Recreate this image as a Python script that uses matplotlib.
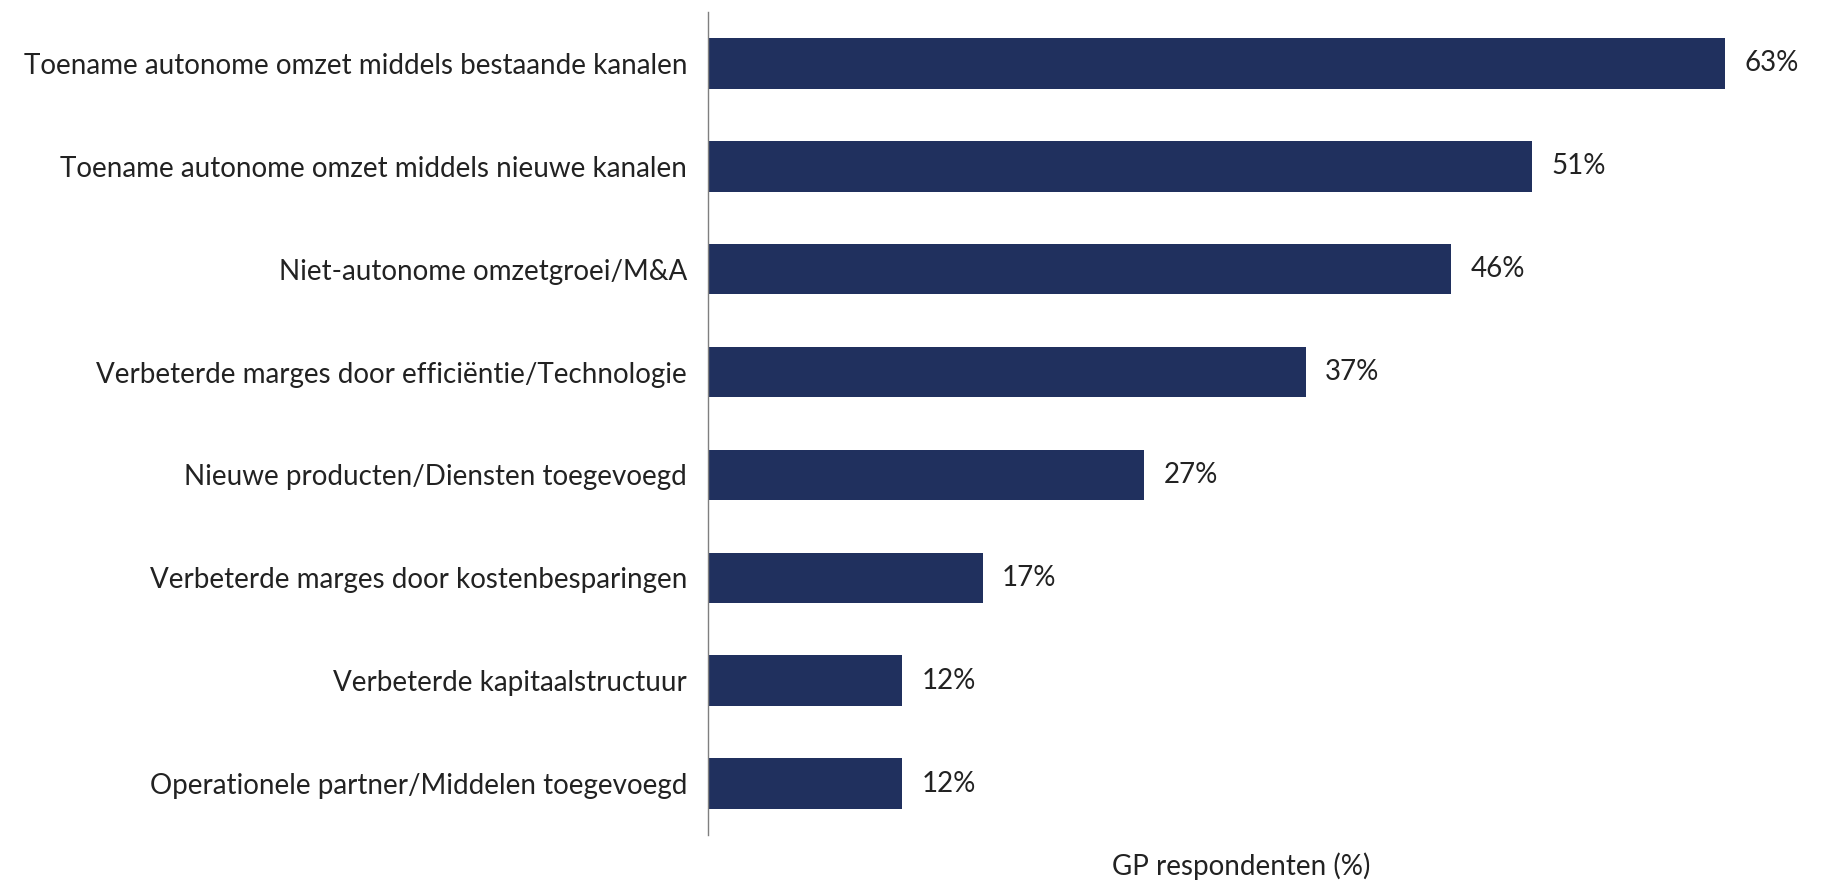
import matplotlib
matplotlib.use("Agg")
import matplotlib.pyplot as plt

categories = [
    "Toename autonome omzet middels bestaande kanalen",
    "Toename autonome omzet middels nieuwe kanalen",
    "Niet-autonome omzetgroei/M&A",
    "Verbeterde marges door efficiëntie/Technologie",
    "Nieuwe producten/Diensten toegevoegd",
    "Verbeterde marges door kostenbesparingen",
    "Verbeterde kapitaalstructuur",
    "Operationele partner/Middelen toegevoegd",
]
values = [63, 51, 46, 37, 27, 17, 12, 12]
value_labels = ["63%", "51%", "46%", "37%", "27%", "17%", "12%", "12%"]
xlabel = "GP respondenten (%)"

plt.rcParams['font.family'] = ['Lato', 'DejaVu Sans']

W, H = 1830, 880
fig = plt.figure(figsize=(W / 100, H / 100), dpi=100)
left, right, top, bottom = 708, 1775, 12, 835
ax = fig.add_axes([left / W, 1 - bottom / H, (right - left) / W, (bottom - top) / H])

color = "#20305e"
ypos = list(range(len(categories)))
ax.barh(ypos, values, height=0.49, color=color)
xmax = (right - left) / 16.15
ax.set_xlim(0, xmax)
ax.set_ylim(len(categories) - 0.5, -0.5)

for y, v, lab in zip(ypos, values, value_labels):
    ax.annotate(lab, (v, y), xytext=(14, 0), textcoords="offset points",
                va="center", ha="left", fontsize=20, color="#222222")

ax.set_yticks(ypos)
ax.set_yticklabels(categories, fontsize=20, color="#222222")
ax.tick_params(axis="y", length=0, pad=15)
ax.set_xticks([])
for s in ["top", "right", "bottom"]:
    ax.spines[s].set_visible(False)
ax.spines["left"].set_color("#7f7f7f")
ax.spines["left"].set_linewidth(1.0)

fig.text((left + right) / 2 / W, 1 - 866 / H, xlabel, ha="center", va="center",
         fontsize=20, color="#222222")

fig.savefig("out.png", dpi=100)
